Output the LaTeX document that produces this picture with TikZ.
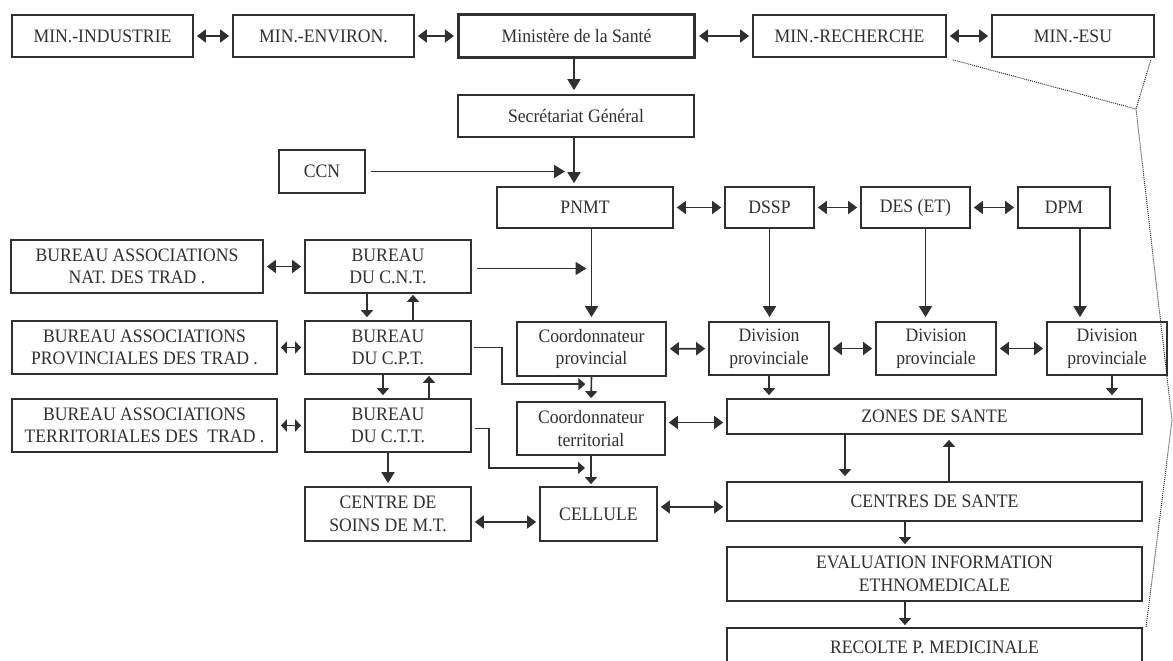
\documentclass[tikz,border=0pt]{standalone}
\usepackage{fontspec}
\setmainfont{Liberation Serif}[FakeStretch=0.93]
\usepackage{tikz}
\usetikzlibrary{arrows.meta,calc}
\definecolor{inkcolor}{RGB}{48,48,48}

\begin{document}
\begin{tikzpicture}[
    x=1pt, y=-1pt,
    box/.style={draw=inkcolor, line width=1.7pt, text=inkcolor, align=center, inner sep=1pt, font=\fontsize{19}{22.5}\selectfont},
    arr/.style={-{Triangle[length=11pt,width=13pt]}, draw=inkcolor, line width=1.8pt},
    sarr/.style={-{Triangle[length=7pt,width=12pt]}, draw=inkcolor, line width=1.6pt},
    biarr/.style={{Triangle[length=9pt,width=13pt]}-{Triangle[length=9pt,width=13pt]}, draw=inkcolor, line width=1.8pt, shorten <=3pt, shorten >=3pt},
    sbiarr/.style={{Triangle[length=6pt,width=12pt]}-{Triangle[length=6pt,width=12pt]}, draw=inkcolor, line width=1.6pt, shorten <=3pt, shorten >=3pt},
    dots/.style={draw=inkcolor, line width=1pt, densely dotted}
]
    \useasboundingbox (0,0) rectangle (1173,661);
    \clip (0,0) rectangle (1173,661);
    \fill[white] (0,0) rectangle (1173,661);

    % Ministries
    \node[box, minimum width=181pt, minimum height=42pt] (ind) at (102.5,36) {MIN.-INDUSTRIE};
    \node[box, minimum width=181pt, minimum height=42pt] (env) at (323.5,36) {MIN.-ENVIRON.};
    \node[box, line width=3.2pt, minimum width=236pt, minimum height=43pt] (min) at (576.5,36) {Ministère de la Santé};
    \node[box, minimum width=193pt, minimum height=42pt] (rech) at (849.5,36) {MIN.-RECHERCHE};
    \node[box, minimum width=162pt, minimum height=42pt] (esu) at (1073,36) {MIN.-ESU};

    % Central level
    \node[box, minimum width=236pt, minimum height=42pt] (sec) at (576,116) {Secrétariat Général};
    \node[box, minimum width=86pt, minimum height=43pt] (ccn) at (322,171.5) {CCN};
    \node[box, minimum width=176pt, minimum height=41pt] (pnmt) at (585,207.5) {PNMT};
    \node[box, minimum width=89pt, minimum height=41pt] (dssp) at (769.5,207.5) {DSSP};
    \node[box, minimum width=109pt, minimum height=41pt] (des) at (915.5,207.5) {DES (ET)};
    \node[box, minimum width=92pt, minimum height=41pt] (dpm) at (1064,207.5) {DPM};

    % Provincial level
    \node[box, minimum width=149pt, minimum height=54pt] (cprov) at (591.5,349) {Coordonnateur\\provincial};
    \node[box, minimum width=120pt, minimum height=53pt] (div1) at (769,348.5) {Division\\provinciale};
    \node[box, minimum width=120pt, minimum height=53pt] (div2) at (936,348.5) {Division\\provinciale};
    \node[box, minimum width=120pt, minimum height=53pt] (div3) at (1107,348.5) {Division\\provinciale};

    % Traditional practitioners
    \node[box, minimum width=252pt, minimum height=53pt] (ban) at (137,266.5) {BUREAU ASSOCIATIONS\\NAT. DES TRAD .};
    \node[box, minimum width=166pt, minimum height=53pt] (bcnt) at (388,266.5) {BUREAU\\DU C.N.T.};
    \node[box, minimum width=265pt, minimum height=53pt] (bap) at (144.5,347.5) {BUREAU ASSOCIATIONS\\PROVINCIALES DES TRAD .};
    \node[box, minimum width=166pt, minimum height=53pt] (bcpt) at (388,347.5) {BUREAU\\DU C.P.T.};
    \node[box, minimum width=265pt, minimum height=53pt] (bat) at (144.5,425.5) {BUREAU ASSOCIATIONS\\TERRITORIALES DES~~TRAD .};
    \node[box, minimum width=166pt, minimum height=53pt] (bctt) at (388,425.5) {BUREAU\\DU C.T.T.};
    \node[box, minimum width=166pt, minimum height=54pt] (csoins) at (388,514) {CENTRE DE\\SOINS DE M.T.};

    % Territorial level
    \node[box, minimum width=148pt, minimum height=53pt] (cterr) at (591,428.5) {Coordonnateur\\territorial};
    \node[box, minimum width=117pt, minimum height=54pt] (cell) at (598.5,514) {CELLULE};
    \node[box, minimum width=415pt, minimum height=35pt] (zones) at (934.5,416.5) {ZONES DE SANTE};
    \node[box, minimum width=415pt, minimum height=39pt] (centres) at (934.5,501.5) {CENTRES DE SANTE};
    \node[box, minimum width=415pt, minimum height=54pt] (eval) at (934.5,574) {EVALUATION INFORMATION\\ETHNOMEDICALE};
    \node[box, minimum width=415pt, minimum height=70pt, text depth=32pt] (recolte) at (934.5,663) {RECOLTE P. MEDICINALE};

    % Links between ministries
    \draw[biarr] (ind) -- (env);
    \draw[biarr] (env) -- (min);
    \draw[biarr] (min) -- (rech);
    \draw[biarr] (rech) -- (esu);
    \draw[arr, shorten >=4pt] (min.south -| 574,0) -- (sec.north -| 574,0);
    \draw[arr, shorten >=3pt] (sec.south -| 574,0) -- (pnmt.north -| 574,0);
    \draw[arr, shorten <=5pt, shorten >=9pt] (ccn) -- (ccn -| 574,0);

    % Directions
    \draw[biarr] (pnmt) -- (dssp);
    \draw[biarr] (dssp) -- (des);
    \draw[biarr] (des) -- (dpm);
    \draw[arr, shorten >=4pt] (cprov.north |- pnmt.south) -- (cprov.north);
    \draw[arr, shorten >=4pt] (dssp.south) -- (dssp.south |- div1.north);
    \draw[arr, shorten >=4pt] ([xshift=10pt]des.south) -- ([xshift=10pt]des.south |- div2.north);
    \draw[arr, shorten >=4pt] ([xshift=16pt]dpm.south) -- ([xshift=16pt]dpm.south |- div3.north);
    \draw[arr, shorten <=5pt, shorten >=5pt] ([yshift=-2pt]bcnt.east) -- ([yshift=-2pt]bcnt.east -| cprov.north);

    % Provincial links
    \draw[biarr] (cprov) -- (div1);
    \draw[biarr] (div1) -- (div2);
    \draw[biarr] (div2) -- (div3);
    \draw[sarr, shorten >=3pt] (div1.south) -- (div1.south |- zones.north);
    \draw[sarr, shorten >=3pt] ([xshift=5pt]div3.south) -- ([xshift=5pt]div3.south |- zones.north);

    % Bureaux
    \draw[biarr] (ban) -- (bcnt);
    \draw[sbiarr] (bap) -- (bcpt);
    \draw[sbiarr] (bat) -- (bctt);
    \draw[sarr, shorten >=3pt] ([xshift=-21pt]bcnt.south) -- ([xshift=-21pt]bcpt.north);
    \draw[sarr, shorten >=1pt] ([xshift=25pt]bcpt.north) -- ([xshift=25pt]bcnt.south);
    \draw[sarr, shorten >=3pt] ([xshift=-5pt]bcpt.south) -- ([xshift=-5pt]bctt.north);
    \draw[sarr, shorten >=1pt] ([xshift=41pt]bctt.north) -- ([xshift=41pt]bcpt.south);
    \draw[arr, shorten >=3pt] (bctt.south) -- (csoins.north);
    \draw[sarr, line width=1.4pt, shorten <=2pt, shorten >=6pt] (bcpt.east) -- ++(30,0) |- ($(cprov.south)!0.3!(cterr.north)$);
    \draw[sarr, line width=1.4pt, shorten <=3pt, shorten >=6pt] ([yshift=-3pt]bctt.east) -- ++(17,0) |- ($(cterr.south)!0.4!(cterr.south |- cell.north)$);

    % Territorial links
    \draw[sarr, shorten >=3pt] (cprov.south) -- (cterr.north);
    \draw[sarr, shorten >=2pt] (cterr.south) -- (cterr.south |- cell.north);
    \draw[biarr] ([yshift=-8pt]csoins.east) -- ([yshift=-8pt]cell.west);
    \draw[biarr] ([yshift=6pt]cterr.east) -- ([yshift=6pt]cterr.east -| zones.west);
    \draw[biarr] ([yshift=7pt]cell.east) -- ([yshift=7pt]cell.east -| centres.west);
    \draw[sarr, shorten >=5pt] ([xshift=-89.5pt]zones.south) -- ([xshift=-89.5pt]zones.south |- centres.north);
    \draw[sarr, shorten >=5pt] ([xshift=14.5pt]centres.north) -- ([xshift=14.5pt]centres.north |- zones.south);
    \draw[sarr, shorten >=2pt] ([xshift=-29.5pt]centres.south) -- ([xshift=-29.5pt]centres.south |- eval.north);
    \draw[sarr, shorten >=2pt] ([xshift=-29.5pt]eval.south) -- ([xshift=-29.5pt]eval.south |- recolte.north);

    % Dotted bracket
    \coordinate (dj) at (1136,109);
    \coordinate (dk) at (1172,420);
    \coordinate (dl) at (1146,628);
    \draw[dots] ([shift={(6,2)}]rech.south east) -- (dj);
    \draw[dots] ([shift={(-4,2)}]esu.south east) -- (dj) -- (dk) -- (dl);
\end{tikzpicture}
\end{document}
